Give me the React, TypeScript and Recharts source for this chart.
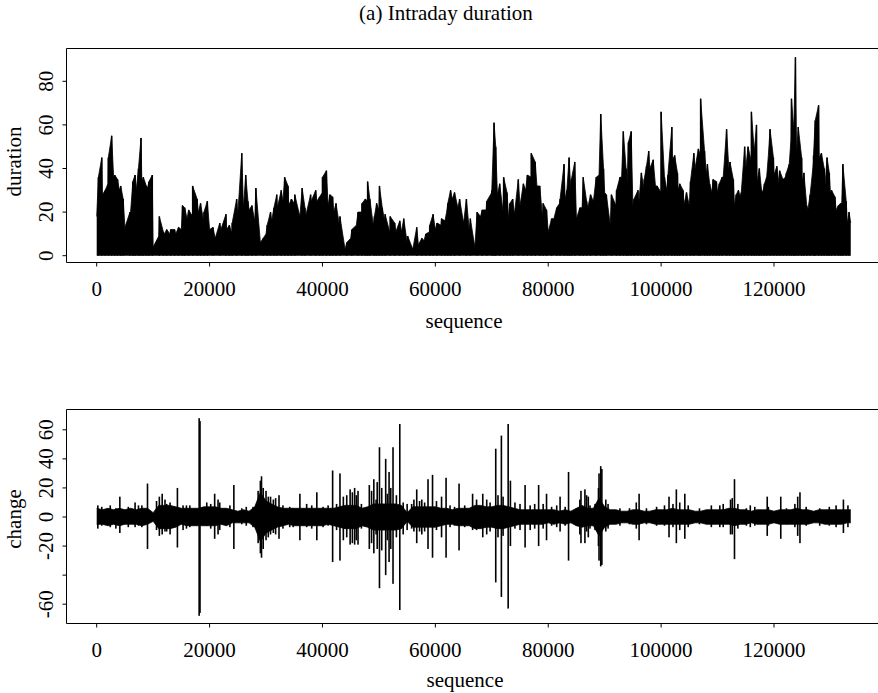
import React from 'react';
import { ComposedChart, Area, Bar, XAxis, YAxis, ReferenceArea } from 'recharts';

const FONT = "'Liberation Serif', 'Times New Roman', serif";
const FS = 21;

// ---------- data ----------
const binStep = 1000;
const seqEnd = 133600;

// dense level of the duration series, one value per 1000 observations
const durationBand = [
  18, 28, 33, 36, 30, 13, 20, 30, 34, 31,
  4, 9, 10, 10, 10, 12, 17, 18, 20, 15,
  12, 8, 12, 12, 10, 19, 22, 21, 16, 6,
  10, 16, 22, 25, 23, 24, 18, 18, 25, 25,
  29, 23, 20, 14, 3, 8, 14, 20, 25, 14,
  21, 16, 10, 11, 11, 6, 3, 5, 7, 11,
  12, 14, 20, 26, 22, 15, 12, 4, 18, 21,
  29, 28, 20, 17, 19, 23, 30, 36, 32, 17,
  11, 17, 24, 26, 30, 17, 22, 22, 25, 37,
  29, 14, 23, 36, 33, 23, 23, 30, 40, 32,
  29, 30, 44, 30, 23, 23, 40, 46, 37, 29,
  29, 36, 40, 23, 27, 40, 43, 34, 29, 46,
  37, 31, 36, 53, 47, 34, 21, 43, 45, 31,
  29, 21, 24, 15,
];
const durationEnd = 15;

// duration spikes (position, height)
const durationSpikeSeq = [
  300, 900, 1500, 2060, 2650, 3200, 3700, 4250, 4700, 5900, 6400, 6800, 7400, 7850, 8260, 8800, 9260, 9850,
  11100, 11800, 12400, 13100, 13800, 14500, 15200, 15600, 16300, 17000, 17800, 18400, 19000, 19600, 20600,
  21800, 22900, 23500, 24000, 24800, 25700, 26400, 26800, 27500, 28200, 29500, 30200, 30800, 31400, 31900,
  32700, 33300, 33900, 34500, 35100, 36400, 36900, 37900, 38800, 39500, 40000, 40700, 41300, 41800, 42400,
  43100, 44300, 45200, 46300, 47000, 47600, 48000, 48400, 49200, 49600, 50100, 50600, 51100, 52000, 52800,
  53700, 54400, 55100, 56700, 57600, 58300, 59000, 59600, 60300, 61100, 61700, 62200, 62700, 63400, 64300,
  65500, 66200, 67400, 68300, 69100, 70000, 70400, 70700, 71400, 72100, 72700, 73200, 73700, 74700, 75600,
  76300, 77000, 77700, 78500, 79100, 79700, 80600, 81500, 82100, 82800, 83300, 83700, 84100, 84700, 85600,
  86200, 86800, 87500, 88500, 89300, 89800, 90300, 91200, 92100, 92700, 93300, 93800, 94200, 94700, 95200,
  95900, 96500, 97000, 97400, 97800, 98600, 99300, 100000, 100600, 101200, 101900, 102400, 102900, 103300,
  103900, 104500, 105200, 105800, 106600, 107000, 107700, 108200, 108600, 109200, 109800, 110300, 110800,
  111600, 112200, 112800, 113300, 113700, 114200, 114800, 115400, 116000, 116500, 116900, 117400, 117800,
  118300, 118700, 119300, 119900, 120500, 121000, 121600, 122200, 122700, 123100, 123500, 123800, 124300,
  124900, 125300, 125800, 126400, 127000, 127300, 127900, 128400, 128900, 129400, 129800, 130200, 130800,
  131400, 131800, 132200, 132800, 133300,
];
const durationSpikeVal = [
  36, 45, 30, 45, 55, 37, 35, 32, 26, 20, 34, 37, 40, 54, 36, 32, 34, 37,
  18, 11, 12, 12, 12, 13, 23, 22, 21, 32, 26, 24, 20, 25, 13,
  15, 19, 14, 15, 26, 47, 37, 25, 23, 31, 8, 14, 20, 22, 28,
  30, 36, 32, 26, 28, 31, 22, 28, 30, 27, 36, 39, 28, 27, 24,
  18, 6, 12, 20, 24, 26, 34, 26, 18, 24, 32, 22, 19, 18, 15,
  16, 17, 9, 13, 8, 10, 14, 19, 15, 17, 16, 24, 30, 29, 26,
  26, 17, 20, 21, 25, 30, 61, 50, 33, 36, 29, 24, 26, 35, 33,
  37, 47, 43, 32, 24, 21, 17, 22, 26, 42, 30, 45, 35, 43, 22,
  36, 25, 28, 36, 65, 40, 28, 28, 30, 36, 57, 40, 52, 57, 26,
  30, 38, 35, 41, 48, 44, 32, 66, 36, 37, 59, 46, 38, 33,
  30, 29, 34, 47, 49, 72, 48, 42, 33, 35, 34, 33, 36,
  58, 43, 35, 28, 30, 29, 50, 50, 66, 48, 60, 40, 30,
  33, 36, 58, 45, 41, 39, 35, 38, 42, 72, 58, 91, 59,
  45, 38, 23, 28, 46, 62, 69, 47, 40, 45, 38, 30, 27,
  23, 24, 42, 25, 20,
];

// dense band of the change series, one value per 1000 observations
const changeBandHi = [
  6, 5, 6, 5, 6, 5, 6, 5, 6, 6,
  3, 8, 8, 8, 7, 6, 6, 6, 6, 7,
  7, 7, 6, 6, 5, 4, 5, 4, 7, 17,
  11, 9, 7, 6, 6, 6, 6, 6, 6, 6,
  6, 6, 6, 7, 8, 8, 8, 6, 7, 9,
  9, 9, 9, 9, 8, 3, 7, 7, 7, 7,
  7, 6, 6, 5, 6, 6, 6, 8, 8, 7,
  7, 8, 8, 7, 6, 5, 5, 5, 5, 5,
  5, 5, 4, 5, 4, 6, 8, 6, 6, 13,
  7, 5, 5, 4, 4, 5, 5, 4, 4, 5,
  5, 5, 6, 5, 5, 5, 4, 4, 5, 5,
  5, 5, 6, 6, 5, 5, 4, 5, 5, 5,
  4, 5, 5, 5, 6, 5, 5, 4, 5, 5,
  5, 5, 5, 5,
];
const changeBandLo = [
  -5, -5, -6, -5, -6, -5, -5, -5, -6, -5,
  -3, -8, -8, -8, -7, -5, -6, -6, -6, -6,
  -6, -6, -5, -6, -4, -4, -4, -4, -7, -17,
  -11, -9, -7, -6, -5, -6, -6, -6, -6, -6,
  -6, -5, -6, -7, -8, -8, -8, -6, -7, -9,
  -9, -9, -9, -9, -8, -3, -7, -7, -7, -7,
  -7, -6, -5, -5, -6, -6, -6, -8, -8, -7,
  -7, -8, -8, -7, -6, -5, -5, -5, -5, -5,
  -4, -5, -4, -5, -4, -6, -7, -6, -6, -13,
  -7, -5, -5, -4, -4, -5, -5, -4, -4, -5,
  -5, -5, -5, -5, -5, -5, -4, -4, -5, -5,
  -5, -5, -5, -6, -5, -5, -4, -5, -5, -5,
  -4, -5, -5, -5, -5, -5, -5, -4, -4, -5,
  -5, -5, -5, -4,
];
const changeEndHi = 5;
const changeEndLo = -4;

// change spikes (position, top, bottom)
const changeSpikeSeq = [
  200, 900, 2400, 3400, 4100, 5600, 6800, 7400, 8000, 9000, 10600, 11100, 11600, 12100, 12400, 13000,
  14300, 15300, 15900, 16500, 18150, 18300, 19500, 20200, 20900, 21500, 21800, 23600, 24300, 25700,
  26500, 27700, 28600, 29000, 29200, 29500, 30000, 30400, 30800, 31300, 31700, 32300, 33000, 34200,
  34800, 36000, 37200, 38100, 39000, 40100, 41000, 41800, 42500, 43100, 43700, 44300, 44900, 45300,
  45700, 46000, 46300, 46900, 48300, 48700, 49100, 49500, 49700, 50100, 50500, 51200, 51500, 51800,
  52100, 52500, 53100, 53700, 54300, 55000, 55800, 56200, 56700, 57200, 57600, 58100, 58700, 59500,
  60200, 61100, 61900, 62600, 63400, 64200, 65200, 66600, 67300, 68400, 69100, 69700, 70700, 71100,
  71700, 72000, 72900, 73300, 74100, 75000, 75900, 76800, 77600, 78300, 79100, 79700, 80600, 81500,
  82100, 83000, 83600, 85000, 85600, 85800, 86500, 86800, 87100, 87400, 88300, 88900, 89000, 89300,
  89500, 90200, 90600, 92700, 94400, 95600, 96100, 97400, 99200, 100600, 101400, 102100, 102700,
  103300, 104200, 104800, 106800, 108900, 110400, 111000, 112300, 112600, 113000, 113600, 115100,
  115800, 116600, 118800, 119000, 121200, 122200, 123700, 124200, 124600, 125700, 128100, 129800,
  131000, 132300, 133100,
];
const changeSpikeHi = [
  8, 7, 8, 6, 14, 7, 10, 8, 8, 23, 11, 14, 16, 12, 9, 10,
  20, 8, 8, 8, 68, 66, 10, 9, 16, 12, 10, 8, 22, 6,
  7, 7, 18, 25, 28, 20, 18, 14, 14, 12, 13, 15, 8, 7,
  6, 16, 9, 8, 17, 7, 8, 32, 9, 30, 14, 15, 19, 17,
  20, 15, 18, 9, 22, 18, 26, 12, 24, 48, 20, 40, 16, 31,
  20, 48, 15, 64, 10, 9, 9, 12, 19, 11, 12, 10, 26, 29,
  11, 14, 27, 8, 7, 23, 8, 16, 12, 16, 12, 10, 47, 15,
  56, 14, 64, 25, 10, 9, 22, 8, 9, 22, 9, 16, 7, 8,
  14, 7, 31, 6, 12, 18, 19, 15, 14, 8, 9, 20, 30, 35,
  33, 12, 9, 6, 6, 10, 16, 6, 7, 8, 14, 9, 19,
  10, 16, 8, 6, 8, 8, 9, 12, 13, 26, 9, 6,
  8, 7, 14, 7, 14, 6, 9, 14, 17, 7, 6, 7,
  8, 12, 8,
];
const changeSpikeLo = [
  -8, -6, -7, -8, -11, -7, -7, -6, -7, -22, -9, -13, -12, -10, -10, -12,
  -21, -9, -8, -7, -68, -66, -6, -8, -15, -12, -9, -7, -22, -5,
  -6, -7, -18, -25, -28, -22, -16, -14, -12, -11, -12, -15, -8, -7,
  -7, -16, -7, -8, -16, -7, -6, -31, -9, -30, -16, -14, -19, -18,
  -19, -16, -19, -8, -22, -18, -25, -12, -22, -49, -23, -40, -16, -31,
  -22, -46, -14, -64, -12, -9, -8, -10, -18, -10, -12, -10, -22, -28,
  -9, -14, -28, -7, -6, -23, -7, -9, -9, -14, -12, -10, -45, -14,
  -55, -13, -63, -20, -8, -9, -21, -9, -8, -20, -8, -16, -6, -7,
  -10, -6, -30, -6, -12, -18, -18, -10, -14, -8, -9, -20, -30, -34,
  -33, -10, -8, -6, -5, -8, -16, -5, -6, -6, -14, -7, -18,
  -9, -15, -7, -5, -7, -7, -7, -12, -12, -29, -8, -6,
  -7, -6, -13, -6, -15, -5, -7, -13, -18, -6, -6, -6,
  -7, -11, -7,
];

const seqTicks = [0, 20000, 40000, 60000, 80000, 100000, 120000];
const durationTicks = [0, 20, 40, 60, 80];
const changeTicks = [-60, -40, -20, 0, 20, 40, 60];
const changeHiddenLabels = [-40];

// ---------- tables built from the arrays ----------
type Row = { seq: number; top?: number; band?: number[]; spike?: number | number[] };

// the filled outline runs through both the dense level and the spike tops
const durationRows: Row[] = [
  ...durationBand.map((v, i) => ({ seq: i * binStep, top: v })),
  { seq: seqEnd, top: durationEnd },
  ...durationSpikeSeq.map((s, i) => ({ seq: s, top: durationSpikeVal[i], spike: durationSpikeVal[i] })),
].sort((a, b) => a.seq - b.seq);

const changeRows: Row[] = [
  ...changeBandHi.map((v, i) => ({ seq: i * binStep, band: [changeBandLo[i], v] })),
  { seq: seqEnd, band: [changeEndLo, changeEndHi] },
  ...changeSpikeSeq.map((s, i) => ({ seq: s, spike: [changeSpikeLo[i], changeSpikeHi[i]] })),
].sort((a, b) => a.seq - b.seq);

// ---------- geometry ----------
const CW = 892;
const X_DOMAIN: [number, number] = [-5351, 139490];
const DUR_DOMAIN: [number, number] = [-3.12, 95.05];
const CHG_DOMAIN: [number, number] = [-73.28, 73.97];

// thin vertical stroke centred on the bar's scaled position
const makeSpikeShape = (w: number) => (props: any) => {
  const { x, y, width, height } = props;
  if (![x, y, width, height].every((v) => typeof v === 'number' && isFinite(v))) return <g />;
  if (height === 0) return <g />;
  const top = Math.min(y, y + height);
  const h = Math.abs(height);
  return <rect x={x + width / 2 - w / 2} y={top} width={w} height={h} fill="#000" />;
};

const XTick = (props: any) => {
  const { x, y, payload } = props;
  return (
    <text x={x} y={y + 29.5} textAnchor="middle" fontFamily={FONT} fontSize={FS} fill="#000">
      {payload.value}
    </text>
  );
};

const makeYTick = (hidden: number[]) => (props: any) => {
  const { x, y, payload } = props;
  if (hidden.includes(payload.value)) return <g />;
  return (
    <text
      transform={`translate(${x - 9.5},${y}) rotate(-90)`}
      textAnchor="middle"
      fontFamily={FONT}
      fontSize={FS}
      fill="#000"
    >
      {payload.value}
    </text>
  );
};

export default function App() {
  return (
    <div
      style={{
        position: 'absolute',
        left: 0,
        top: 0,
        width: 878,
        height: 693,
        overflow: 'hidden',
        background: '#fff',
      }}
    >
      <div style={{ position: 'absolute', left: 0, top: 0 }}>
        <ComposedChart
          width={CW}
          height={346}
          data={durationRows}
          margin={{ top: 48.5, right: 8, left: 0, bottom: 23.5 }}
        >
          <XAxis
            dataKey="seq"
            type="number"
            domain={X_DOMAIN}
            ticks={seqTicks}
            interval={0}
            allowDataOverflow
            axisLine={false}
            tickLine={{ stroke: '#000' }}
            tickSize={4}
            tickMargin={0}
            height={60}
            tick={<XTick />}
          />
          <YAxis
            type="number"
            domain={DUR_DOMAIN}
            ticks={durationTicks}
            interval={0}
            allowDataOverflow
            axisLine={false}
            tickLine={{ stroke: '#000' }}
            tickSize={4}
            tickMargin={0}
            width={66.5}
            tick={makeYTick([])}
          />
          <Area
            dataKey="top"
            type="linear"
            stroke="#000"
            strokeWidth={0.8}
            fill="#000"
            fillOpacity={1}
            baseValue={0}
            dot={false}
            activeDot={false}
            isAnimationActive={false}
          />
          <Bar dataKey="spike" fill="#000" shape={makeSpikeShape(1.5)} isAnimationActive={false} />
          <ReferenceArea
            x1={X_DOMAIN[0]}
            x2={X_DOMAIN[1]}
            y1={DUR_DOMAIN[0]}
            y2={DUR_DOMAIN[1]}
            fill="none"
            stroke="#000"
            strokeWidth={1}
            ifOverflow="visible"
          />
        </ComposedChart>
      </div>

      <div style={{ position: 'absolute', left: 0, top: 346 }}>
        <ComposedChart
          width={CW}
          height={347}
          data={changeRows}
          margin={{ top: 63.5, right: 8, left: 0, bottom: 19.5 }}
        >
          <XAxis
            dataKey="seq"
            type="number"
            domain={X_DOMAIN}
            ticks={seqTicks}
            interval={0}
            allowDataOverflow
            axisLine={false}
            tickLine={{ stroke: '#000' }}
            tickSize={4}
            tickMargin={0}
            height={50}
            tick={<XTick />}
          />
          <YAxis
            type="number"
            domain={CHG_DOMAIN}
            ticks={changeTicks}
            interval={0}
            allowDataOverflow
            axisLine={false}
            tickLine={{ stroke: '#000' }}
            tickSize={4}
            tickMargin={0}
            width={66.5}
            tick={makeYTick(changeHiddenLabels)}
          />
          <Area
            dataKey="band"
            type="linear"
            stroke="#000"
            strokeWidth={0.8}
            fill="#000"
            fillOpacity={1}
            connectNulls
            dot={false}
            activeDot={false}
            isAnimationActive={false}
          />
          <Bar dataKey="spike" fill="#000" shape={makeSpikeShape(1.6)} isAnimationActive={false} />
          <ReferenceArea
            x1={X_DOMAIN[0]}
            x2={X_DOMAIN[1]}
            y1={CHG_DOMAIN[0]}
            y2={CHG_DOMAIN[1]}
            fill="none"
            stroke="#000"
            strokeWidth={1}
            ifOverflow="visible"
          />
        </ComposedChart>
      </div>

      <svg
        width={878}
        height={693}
        style={{ position: 'absolute', left: 0, top: 0, pointerEvents: 'none' }}
      >
        <text x={446} y={19.5} textAnchor="middle" fontFamily={FONT} fontSize={FS} fill="#000">
          (a) Intraday duration
        </text>
        <text
          transform="translate(20.5,161.5) rotate(-90)"
          textAnchor="middle"
          fontFamily={FONT}
          fontSize={FS}
          fill="#000"
        >
          duration
        </text>
        <text x={464} y={327.5} textAnchor="middle" fontFamily={FONT} fontSize={FS} fill="#000">
          sequence
        </text>
        <text
          transform="translate(20.5,519) rotate(-90)"
          textAnchor="middle"
          fontFamily={FONT}
          fontSize={FS}
          fill="#000"
        >
          change
        </text>
        <text x={465} y={687} textAnchor="middle" fontFamily={FONT} fontSize={FS} fill="#000">
          sequence
        </text>
      </svg>
    </div>
  );
}
